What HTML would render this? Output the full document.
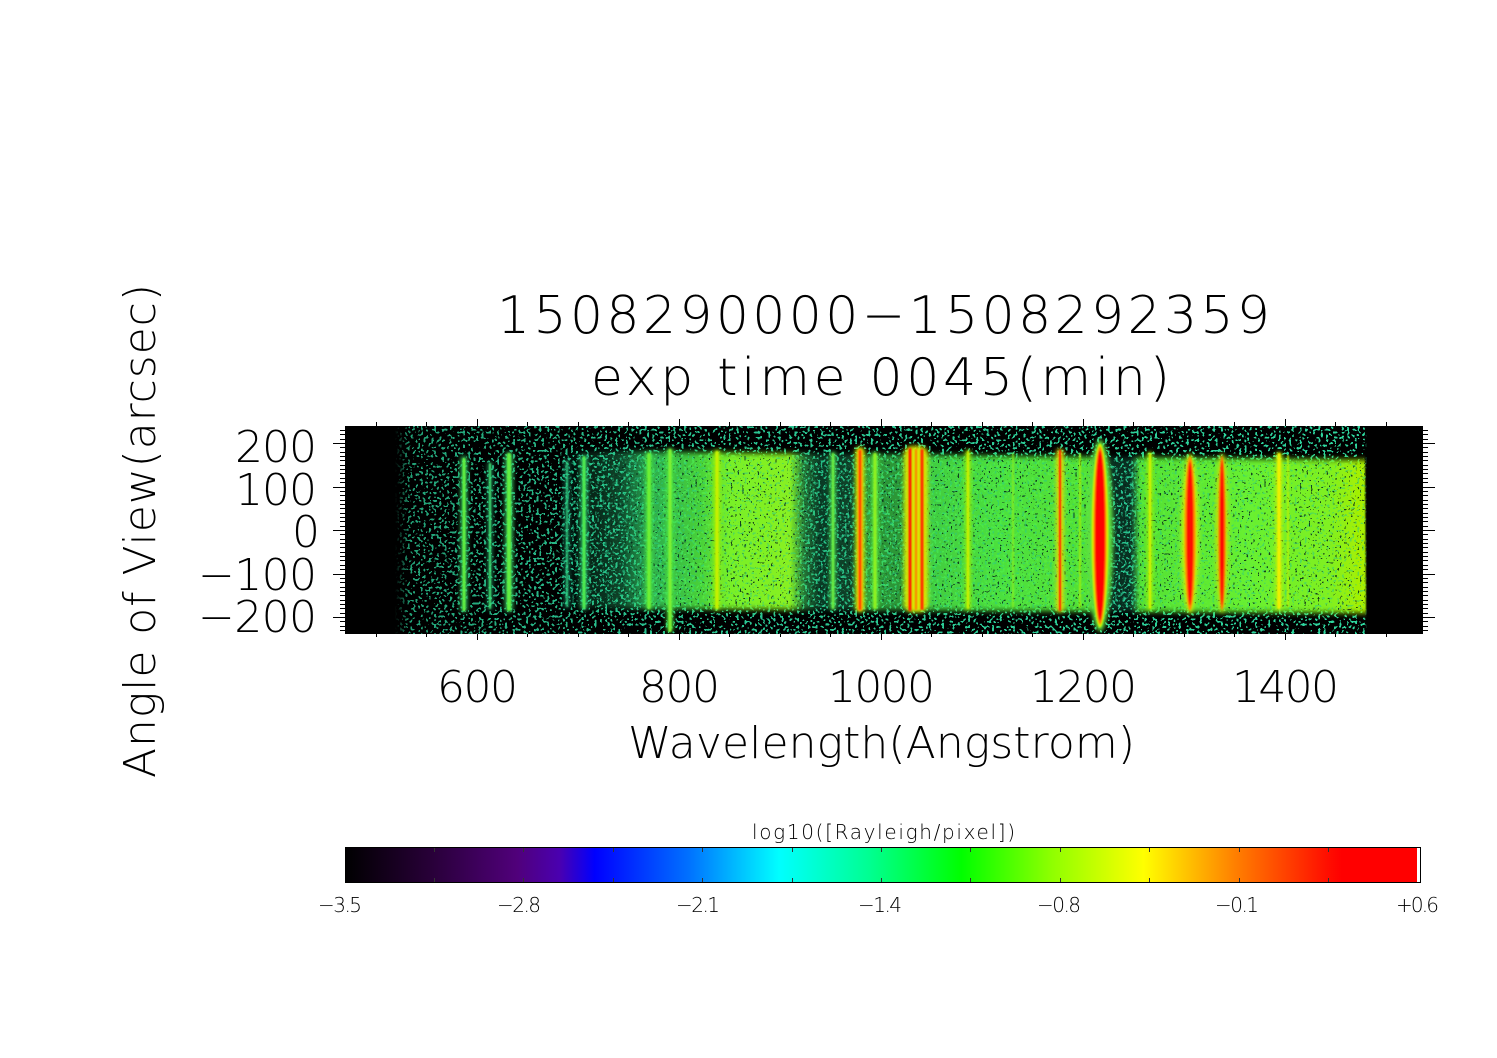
<!DOCTYPE html>
<html><head><meta charset="utf-8"><style>
html,body{margin:0;padding:0;background:#fff;overflow:hidden;}
svg{display:block;}
text{font-family:"DejaVu Sans","Liberation Sans",sans-serif;font-weight:200;fill:#000;}
</style></head><body>
<svg width="1497" height="1058" viewBox="0 0 1497 1058" xmlns="http://www.w3.org/2000/svg">
<defs>
 <filter id="fTeal" filterUnits="userSpaceOnUse" x="345" y="426" width="1078" height="208" color-interpolation-filters="sRGB">
  <feTurbulence type="fractalNoise" baseFrequency="0.38" numOctaves="1" seed="4"/>
  <feColorMatrix type="matrix" values="0 0 0 0 0.18  0 0 0 0 0.84  0 0 0 0 0.62  14 0 0 0 -7.75"/>
  <feComponentTransfer><feFuncA type="discrete" tableValues="0 1"/></feComponentTransfer>
 </filter>
 <filter id="fDark" filterUnits="userSpaceOnUse" x="345" y="426" width="1078" height="208" color-interpolation-filters="sRGB">
  <feTurbulence type="fractalNoise" baseFrequency="0.45" numOctaves="1" seed="9"/>
  <feColorMatrix type="matrix" values="0 0 0 0 0.02  0 0 0 0 0.15  0 0 0 0 0.1  14 0 0 0 -8.9"/>
  <feComponentTransfer><feFuncA type="discrete" tableValues="0 1"/></feComponentTransfer>
 </filter>
 <filter id="fTeal2" filterUnits="userSpaceOnUse" x="345" y="426" width="1078" height="208" color-interpolation-filters="sRGB">
  <feTurbulence type="fractalNoise" baseFrequency="0.4" numOctaves="1" seed="13"/>
  <feColorMatrix type="matrix" values="0 0 0 0 0.15  0 0 0 0 0.78  0 0 0 0 0.55  14 0 0 0 -8.3"/>
  <feComponentTransfer><feFuncA type="discrete" tableValues="0 1"/></feComponentTransfer>
 </filter>
 <filter id="blurY" x="-5%" y="-10%" width="110%" height="120%"><feGaussianBlur stdDeviation="0.8 3"/></filter>
 <filter id="bl1" x="-50%" y="-10%" width="200%" height="120%"><feGaussianBlur stdDeviation="0.8"/></filter>
 <filter id="bl2" x="-100%" y="-10%" width="300%" height="120%"><feGaussianBlur stdDeviation="2.2"/></filter>

 <linearGradient id="gNoiseH" gradientUnits="userSpaceOnUse" x1="345" y1="0" x2="1423" y2="0">
  <stop offset="0" stop-color="#fff" stop-opacity="0"/>
  <stop offset="0.0464" stop-color="#fff" stop-opacity="0"/>
  <stop offset="0.0603" stop-color="#fff" stop-opacity="0.75"/>
  <stop offset="0.255" stop-color="#fff" stop-opacity="0.9"/>
  <stop offset="0.9453" stop-color="#fff" stop-opacity="1"/>
  <stop offset="0.948" stop-color="#fff" stop-opacity="0"/>
  <stop offset="1" stop-color="#fff" stop-opacity="0"/>
 </linearGradient>
 <mask id="mNoise" maskUnits="userSpaceOnUse" x="345" y="426" width="1078" height="208">
  <rect x="345" y="426" width="1078" height="208" fill="url(#gNoiseH)"/>
 </mask>

 <linearGradient id="gBand" gradientUnits="userSpaceOnUse" x1="560" y1="0" x2="1366" y2="0">
  <stop offset="0" stop-color="#20c080" stop-opacity="0"/>
  <stop offset="0.0744" stop-color="#28c878" stop-opacity="0.35"/>
  <stop offset="0.1117" stop-color="#38d860" stop-opacity="0.8"/>
  <stop offset="0.1737" stop-color="#50e840" stop-opacity="0.9"/>
  <stop offset="0.2109" stop-color="#78f028" stop-opacity="1"/>
  <stop offset="0.2854" stop-color="#88f020" stop-opacity="1"/>
  <stop offset="0.304" stop-color="#40d060" stop-opacity="0.55"/>
  <stop offset="0.3226" stop-color="#20a868" stop-opacity="0.35"/>
  <stop offset="0.3598" stop-color="#20a868" stop-opacity="0.4"/>
  <stop offset="0.3821" stop-color="#40d850" stop-opacity="0.7"/>
  <stop offset="0.428" stop-color="#40d850" stop-opacity="0.7"/>
  <stop offset="0.4591" stop-color="#48e448" stop-opacity="0.9"/>
  <stop offset="0.5459" stop-color="#50ec40" stop-opacity="0.95"/>
  <stop offset="0.6576" stop-color="#58ec38" stop-opacity="0.95"/>
  <stop offset="0.6799" stop-color="#20a070" stop-opacity="0.3"/>
  <stop offset="0.7072" stop-color="#20a070" stop-opacity="0.3"/>
  <stop offset="0.7196" stop-color="#58ec38" stop-opacity="0.95"/>
  <stop offset="0.8561" stop-color="#68f030" stop-opacity="1"/>
  <stop offset="0.9553" stop-color="#80f020" stop-opacity="1"/>
  <stop offset="0.995" stop-color="#a8f000" stop-opacity="1"/>
  <stop offset="1" stop-color="#a8f000" stop-opacity="1"/>
 </linearGradient>
 <clipPath id="cBand"><polygon points="560,454 1365,463 1365,610 560,605"/></clipPath>
 <clipPath id="cPlot"><rect x="345" y="426" width="1078" height="208"/></clipPath>

 <linearGradient id="gCbar" gradientUnits="userSpaceOnUse" x1="345" y1="0" x2="1417" y2="0">
  <stop offset="0" stop-color="#000000"/>
  <stop offset="0.08" stop-color="#280038"/>
  <stop offset="0.16" stop-color="#50007a"/>
  <stop offset="0.2" stop-color="#4a00b0"/>
  <stop offset="0.233" stop-color="#0000ff"/>
  <stop offset="0.32" stop-color="#0070ff"/>
  <stop offset="0.405" stop-color="#00ffff"/>
  <stop offset="0.49" stop-color="#00ff90"/>
  <stop offset="0.575" stop-color="#00ff00"/>
  <stop offset="0.66" stop-color="#90ff00"/>
  <stop offset="0.745" stop-color="#ffff00"/>
  <stop offset="0.83" stop-color="#ff8000"/>
  <stop offset="0.915" stop-color="#ff1000"/>
  <stop offset="0.93" stop-color="#ff0000"/>
  <stop offset="1" stop-color="#ff0000"/>
 </linearGradient>
</defs>

<rect x="0" y="0" width="1497" height="1058" fill="#fff"/>

<!-- Titles -->
<text x="497" y="333" font-size="52" textLength="773" lengthAdjust="spacing">1508290000−1508292359</text>
<text x="591" y="395" font-size="52" textLength="579" lengthAdjust="spacing">exp time 0045(min)</text>

<!-- Plot image -->
<g clip-path="url(#cPlot)">
 <rect x="345" y="426" width="1078" height="208" fill="#000"/>
 <g mask="url(#mNoise)">
  <rect x="345" y="426" width="1078" height="208" fill="#000" filter="url(#fTeal)"/>
 </g>
 <polygon points="560,451 1365,460 1366,613 560,608" fill="url(#gBand)" filter="url(#blurY)"/>
 <g clip-path="url(#cBand)">
  <rect x="345" y="426" width="1078" height="208" fill="#000" filter="url(#fTeal2)" opacity="0.5"/>
  <rect x="345" y="426" width="1078" height="208" fill="#000" filter="url(#fDark)" opacity="0.85"/>
 </g>

 <!-- halos -->
 <g filter="url(#bl2)">
  <rect x="460.5" y="456" width="7" height="156" rx="3" fill="#38d868" opacity="0.8"/>
  <rect x="487.5" y="462" width="5" height="148" rx="2" fill="#28c878" opacity="0.6"/>
  <rect x="505" y="452" width="8" height="160" rx="4" fill="#38d868" opacity="0.85"/>
  <rect x="564.5" y="460" width="5" height="148" rx="2" fill="#20b880" opacity="0.5"/>
  <rect x="580.5" y="455" width="7" height="155" rx="3" fill="#30d070" opacity="0.8"/>
  <rect x="646" y="452" width="6" height="158" rx="3" fill="#50e840"/>
  <rect x="667" y="448" width="6" height="184" rx="3" fill="#50e840"/>
  <rect x="714" y="450" width="6" height="160" rx="3" fill="#a0f000"/>
  <rect x="830.5" y="452" width="5" height="158" rx="2" fill="#50e050"/>
  <rect x="855.5" y="447" width="9" height="165" rx="4" fill="#d0f000"/>
  <rect x="872" y="452" width="6" height="158" rx="3" fill="#60ec38"/>
  <rect x="904" y="446" width="24" height="166" rx="8" fill="#d8e800"/>
  <rect x="965.5" y="450" width="5" height="160" rx="2" fill="#a0f000"/>
  <rect x="1056.5" y="449" width="7" height="163" rx="3" fill="#e8e000"/>
  <ellipse cx="1100" cy="535.5" rx="13" ry="96" fill="#60e040"/>
  <rect x="1147.5" y="452" width="5" height="158" rx="2" fill="#a0f000"/>
  <ellipse cx="1190" cy="533.5" rx="8" ry="80" fill="#d8f000"/>
  <ellipse cx="1222" cy="533" rx="6" ry="80" fill="#d0e000"/>
  <rect x="1276" y="452" width="6" height="158" rx="3" fill="#c8f000"/>
 </g>
 <!-- cores -->
 <g filter="url(#bl1)">
  <rect x="462.5" y="458" width="3" height="153" rx="1.5" fill="#60f040"/>
  <rect x="489" y="463" width="2" height="146" rx="1" fill="#40e070"/>
  <rect x="507" y="453" width="4" height="158" rx="2" fill="#60f040"/>
  <rect x="566" y="461" width="2" height="146" rx="1" fill="#30d080" opacity="0.8"/>
  <rect x="582.5" y="456" width="3" height="153" rx="1.5" fill="#50ec50"/>
  <rect x="647.5" y="453" width="3" height="156" rx="1.5" fill="#70f030"/>
  <rect x="668.5" y="449" width="3" height="183" rx="1.5" fill="#80f030"/>
  <rect x="715.5" y="451" width="3" height="158" rx="1.5" fill="#c8f000"/>
  <rect x="832" y="453" width="2" height="156" rx="1" fill="#70f040"/>
  <rect x="857.5" y="449" width="5" height="162" rx="2.5" fill="#ffa000"/>
  <rect x="859" y="450" width="2" height="160" rx="1" fill="#ff1000"/>
  <rect x="873.5" y="453" width="3" height="156" rx="1.5" fill="#90f020"/>
  <rect x="908.5" y="448" width="3" height="163" rx="1.5" fill="#ff2000"/>
  <rect x="915" y="449" width="2" height="161" rx="1" fill="#ff8000"/>
  <rect x="920.5" y="449" width="3" height="161" rx="1.5" fill="#ff3000"/>
  <rect x="967" y="451" width="2" height="158" rx="1" fill="#d0f000"/>
  <rect x="1012" y="453" width="2" height="155" rx="1" fill="#90f020" opacity="0.7"/>
  <rect x="1059" y="450" width="2" height="161" rx="1" fill="#ff2000"/>
  <rect x="1079" y="453" width="2" height="155" rx="1" fill="#b0f000" opacity="0.7"/>
  <ellipse cx="1100" cy="535.5" rx="8.5" ry="92" fill="#d0f000"/>
  <ellipse cx="1100" cy="535.5" rx="6.5" ry="89" fill="#ff8000"/>
  <ellipse cx="1100" cy="535.5" rx="5" ry="85" fill="#ff0000"/>
  <rect x="1149" y="453" width="2" height="156" rx="1" fill="#d8f000"/>
  <ellipse cx="1190" cy="533.5" rx="5.5" ry="77" fill="#ff9000"/>
  <ellipse cx="1190" cy="533.5" rx="3.5" ry="72" fill="#ff1000"/>
  <ellipse cx="1222" cy="533" rx="3.5" ry="77" fill="#ff7000"/>
  <ellipse cx="1222" cy="533" rx="2" ry="72" fill="#ff0000"/>
  <rect x="1277.5" y="453" width="3" height="156" rx="1.5" fill="#f0f000"/>
  <rect x="1287" y="455" width="2" height="152" rx="1" fill="#c0f000" opacity="0.8"/>
 </g>
</g>

<!-- Axis ticks -->
<g stroke="#000" stroke-width="1" shape-rendering="crispEdges" fill="none">
 <path d="M340 430.5h5M340 434.5h5M340 439.5h5M340 447.5h5M340 452.5h5M340 456.5h5M340 460.5h5M340 465.5h5M340 469.5h5M340 473.5h5M340 478.5h5M340 482.5h5M340 491.5h5M340 495.5h5M340 500.5h5M340 504.5h5M340 508.5h5M340 513.5h5M340 517.5h5M340 521.5h5M340 526.5h5M340 534.5h5M340 539.5h5M340 543.5h5M340 547.5h5M340 552.5h5M340 556.5h5M340 560.5h5M340 565.5h5M340 569.5h5M340 578.5h5M340 582.5h5M340 587.5h5M340 591.5h5M340 595.5h5M340 600.5h5M340 604.5h5M340 608.5h5M340 613.5h5M340 621.5h5M340 626.5h5M340 630.5h5"/>
 <path d="M333 443.5h12M333 487.5h12M333 530.5h12M333 574.5h12M333 617.5h12"/>
 <path d="M1423 430.5h5M1423 434.5h5M1423 439.5h5M1423 447.5h5M1423 452.5h5M1423 456.5h5M1423 460.5h5M1423 465.5h5M1423 469.5h5M1423 473.5h5M1423 478.5h5M1423 482.5h5M1423 491.5h5M1423 495.5h5M1423 500.5h5M1423 504.5h5M1423 508.5h5M1423 513.5h5M1423 517.5h5M1423 521.5h5M1423 526.5h5M1423 534.5h5M1423 539.5h5M1423 543.5h5M1423 547.5h5M1423 552.5h5M1423 556.5h5M1423 560.5h5M1423 565.5h5M1423 569.5h5M1423 578.5h5M1423 582.5h5M1423 587.5h5M1423 591.5h5M1423 595.5h5M1423 600.5h5M1423 604.5h5M1423 608.5h5M1423 613.5h5M1423 621.5h5M1423 626.5h5M1423 630.5h5"/>
 <path d="M1423 443.5h12M1423 487.5h12M1423 530.5h12M1423 574.5h12M1423 617.5h12"/>
 <path d="M376.5 426v-4M426.5 426v-4M527.5 426v-4M578.5 426v-4M628.5 426v-4M729.5 426v-4M780.5 426v-4M830.5 426v-4M931.5 426v-4M982.5 426v-4M1032.5 426v-4M1133.5 426v-4M1184.5 426v-4M1234.5 426v-4M1335.5 426v-4M1386.5 426v-4"/>
 <path d="M477.5 426v-7M679.5 426v-7M881.5 426v-7M1083.5 426v-7M1285.5 426v-7"/>
 <path d="M376.5 634v3M426.5 634v3M527.5 634v3M578.5 634v3M628.5 634v3M729.5 634v3M780.5 634v3M830.5 634v3M931.5 634v3M982.5 634v3M1032.5 634v3M1133.5 634v3M1184.5 634v3M1234.5 634v3M1335.5 634v3M1386.5 634v3"/>
 <path d="M477.5 634v6M679.5 634v6M881.5 634v6M1083.5 634v6M1285.5 634v6"/>
</g>

<!-- Y tick labels -->
<text x="235" y="462" font-size="44" textLength="82" lengthAdjust="spacing">200</text>
<text x="235" y="505" font-size="44" textLength="82" lengthAdjust="spacing">100</text>
<text x="292" y="547" font-size="44" textLength="25" lengthAdjust="spacing">0</text>
<text x="198" y="590" font-size="44" textLength="119" lengthAdjust="spacing">−100</text>
<text x="198" y="632" font-size="44" textLength="119" lengthAdjust="spacing">−200</text>

<!-- X tick labels -->
<text x="437" y="702" font-size="44" textLength="81" lengthAdjust="spacing">600</text>
<text x="639" y="702" font-size="44" textLength="81" lengthAdjust="spacing">800</text>
<text x="828" y="702" font-size="44" textLength="107" lengthAdjust="spacing">1000</text>
<text x="1030" y="702" font-size="44" textLength="107" lengthAdjust="spacing">1200</text>
<text x="1232" y="702" font-size="44" textLength="107" lengthAdjust="spacing">1400</text>

<!-- Axis titles -->
<text x="628" y="758" font-size="44" textLength="507" lengthAdjust="spacing">Wavelength(Angstrom)</text>
<text transform="translate(155,778) rotate(-90)" x="0" y="0" font-size="44" textLength="494" lengthAdjust="spacing">Angle of View(arcsec)</text>

<!-- Colorbar -->
<text x="752" y="839" font-size="20" textLength="263" lengthAdjust="spacing">log10([Rayleigh/pixel])</text>
<rect x="345" y="847" width="1072" height="36" fill="url(#gCbar)"/>
<rect x="1417" y="847" width="4" height="36" fill="#fff"/>
<rect x="345.5" y="847.5" width="1075" height="35" fill="none" stroke="#000" stroke-width="1"/>
<g stroke="#333" stroke-width="1" shape-rendering="crispEdges">
 <path d="M434.5 848v4M523.5 848v4M613.5 848v4M702.5 848v4M792.5 848v4M881.5 848v4M970.5 848v4M1060.5 848v4M1149.5 848v4M1239.5 848v4M1328.5 848v4"/>
 <path d="M434.5 882v-4M523.5 882v-4M613.5 882v-4M702.5 882v-4M792.5 882v-4M881.5 882v-4M970.5 882v-4M1060.5 882v-4M1149.5 882v-4M1239.5 882v-4M1328.5 882v-4"/>
</g>
<text x="318" y="912" font-size="20" textLength="44" lengthAdjust="spacing">−3.5</text>
<text x="497" y="912" font-size="20" textLength="44" lengthAdjust="spacing">−2.8</text>
<text x="676" y="912" font-size="20" textLength="44" lengthAdjust="spacing">−2.1</text>
<text x="858" y="912" font-size="20" textLength="44" lengthAdjust="spacing">−1.4</text>
<text x="1037" y="912" font-size="20" textLength="44" lengthAdjust="spacing">−0.8</text>
<text x="1215" y="912" font-size="20" textLength="44" lengthAdjust="spacing">−0.1</text>
<text x="1396" y="912" font-size="20" textLength="43" lengthAdjust="spacing">+0.6</text>
</svg>
</body></html>
